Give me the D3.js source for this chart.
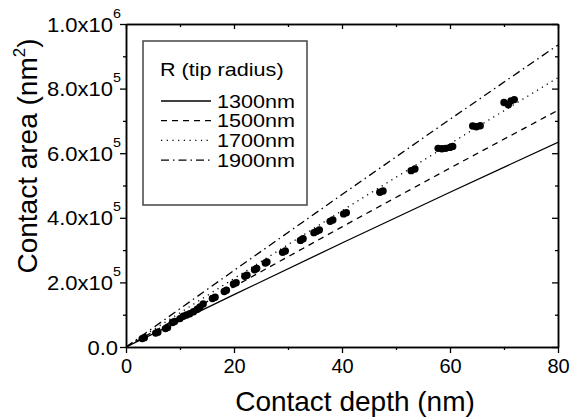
<!DOCTYPE html>
<html>
<head>
<meta charset="utf-8">
<script src="https://cdn.jsdelivr.net/npm/d3@7"></script>
<style>
  body { margin: 0; background: #fff; }
  svg { font-family: "Liberation Sans", Arial, sans-serif; }
</style>
</head>
<body>
<svg id="chart" width="570" height="418"></svg>
<script>
// measured points (contact depth in nm, contact area in nm^2)
const depth = [3.0, 3.4, 5.5, 5.9, 7.3, 7.7, 8.6, 9.0, 10.0, 10.6, 11.2, 11.8, 12.5, 13.2, 13.7, 14.3,
  16.0, 16.5, 18.2, 18.6, 19.9, 20.4, 22.0, 22.4, 23.8, 24.2, 25.8, 26.1, 29.0, 29.5,
  32.3, 32.8, 34.8, 35.3, 35.8, 37.8, 38.3, 40.3, 40.8, 47.0, 47.6, 52.8, 53.5,
  57.8, 58.5, 59.2, 60.0, 60.5, 64.2, 64.9, 65.6, 70.0, 70.8, 71.3, 71.9];
const area = [26000, 29000, 43000, 46000, 57000, 60000, 76000, 79000, 88000, 95000, 99000, 103000, 109000, 117000, 124000, 133000,
  150000, 154000, 172000, 176000, 195000, 199000, 219000, 222000, 239000, 243000, 260000, 263000, 293000, 297000,
  330000, 335000, 354000, 358000, 362000, 389000, 393000, 412000, 416000, 479000, 483000, 546000, 551000,
  615000, 614000, 615000, 618000, 621000, 684000, 682000, 685000, 757000, 750000, 762000, 766000];

// model curves
const lineDepth = [0, 20, 40, 60, 80];
const r1300 = [0, 162000, 322000, 479000, 634000];
const r1500 = [0, 187000, 372000, 554000, 733000];
const r1700 = [0, 212000, 422000, 629000, 834000];
const r1900 = [0, 237000, 472000, 705000, 935000];

const radii = ["1300nm", "1500nm", "1700nm", "1900nm"];
const dashes = [null, "6,5", "1.2,4.5", "8,4,1.5,4"];

const svg = d3.select("#chart"),
  pl = 126, pr = 558, pt = 24, pb = 347;

const x = d3.scaleLinear().domain([0, 80]).range([pl, pr]);
const y = d3.scaleLinear().domain([0, 1e6]).range([pb, pt]);

svg.append("defs").append("clipPath").attr("id", "clip")
  .append("rect").attr("x", pl).attr("y", pt)
  .attr("width", pr - pl).attr("height", pb - pt);

const plot = svg.append("g").attr("clip-path", "url(#clip)");

const line = d3.line()
  .x(d => x(d[0]))
  .y(d => y(d[1]));

[r1300, r1500, r1700, r1900].forEach((vals, i) => {
  plot.append("path")
    .datum(lineDepth.map((d, j) => [d, vals[j]]))
    .attr("fill", "none")
    .attr("stroke", "#000")
    .attr("stroke-width", 1.3)
    .attr("stroke-dasharray", dashes[i])
    .attr("d", line);
});

plot.selectAll("circle")
  .data(depth.map((d, i) => [d, area[i]]))
  .join("circle")
  .attr("cx", d => x(d[0]))
  .attr("cy", d => y(d[1]))
  .attr("r", 3.7)
  .attr("fill", "#000");

// axes: major + minor ticks
const xMajor = d3.range(0, 81, 20), xMinor = d3.range(10, 80, 20);
const yMajor = d3.range(0, 1e6 + 1, 2e5), yMinor = d3.range(1e5, 1e6, 2e5);

function styleAxis(g) {
  g.select(".domain").attr("stroke-width", 1.5);
  g.selectAll(".tick line").attr("stroke-width", 1.3);
}

// bottom
svg.append("g").attr("transform", `translate(0,${pb})`)
  .call(d3.axisBottom(x).tickValues(xMinor).tickSize(3).tickSizeOuter(0).tickFormat(""))
  .call(styleAxis);
svg.append("g").attr("transform", `translate(0,${pb})`)
  .call(d3.axisBottom(x).tickValues(xMajor).tickSize(6).tickSizeOuter(0).tickPadding(6))
  .call(styleAxis)
  .selectAll("text").attr("font-size", 20).attr("font-family", "Liberation Sans, Arial, sans-serif").attr("fill", "#000");

// top
svg.append("g").attr("transform", `translate(0,${pt})`)
  .call(d3.axisTop(x).tickValues(xMinor).tickSize(-3).tickSizeOuter(0).tickFormat(""))
  .call(styleAxis);
svg.append("g").attr("transform", `translate(0,${pt})`)
  .call(d3.axisTop(x).tickValues(xMajor).tickSize(-5).tickSizeOuter(0).tickFormat(""))
  .call(styleAxis);

// right
svg.append("g").attr("transform", `translate(${pr},0)`)
  .call(d3.axisRight(y).tickValues(yMinor).tickSize(-3).tickSizeOuter(0).tickFormat(""))
  .call(styleAxis);
svg.append("g").attr("transform", `translate(${pr},0)`)
  .call(d3.axisRight(y).tickValues(yMajor).tickSize(-6).tickSizeOuter(0).tickFormat(""))
  .call(styleAxis);

// left
svg.append("g").attr("transform", `translate(${pl},0)`)
  .call(d3.axisLeft(y).tickValues(yMinor).tickSize(3).tickSizeOuter(0).tickFormat(""))
  .call(styleAxis);
const yAx = svg.append("g").attr("transform", `translate(${pl},0)`)
  .call(d3.axisLeft(y).tickValues(yMajor).tickSize(6).tickSizeOuter(0))
  .call(styleAxis);

const sx = 1.1;
yAx.selectAll(".tick text").each(function(d) {
  const t = d3.select(this).text(null)
    .attr("font-size", 20).attr("font-family", "Liberation Sans, Arial, sans-serif")
    .attr("fill", "#000").attr("text-anchor", "end").attr("dy", "0.35em")
    .attr("transform", `scale(${sx},1)`);
  if (d === 0) {
    t.attr("x", -8 / sx).text("0.0");
    return;
  }
  const exp = Math.floor(Math.log10(d));
  const mant = d / Math.pow(10, exp);
  t.attr("x", -5 / sx);
  t.append("tspan").text(mant.toFixed(1) + "x10");
  t.append("tspan").attr("font-size", 13).attr("dy", -14).text(exp);
});

// axis titles
svg.append("text")
  .attr("x", 355).attr("y", 411)
  .attr("text-anchor", "middle")
  .attr("font-size", 28)
  .text("Contact depth (nm)");

const yt = svg.append("text")
  .attr("transform", "translate(37,156) rotate(-90)")
  .attr("text-anchor", "middle")
  .attr("font-size", 28);
yt.append("tspan").text("Contact area (nm");
yt.append("tspan").attr("font-size", 17).attr("dy", -12).text("2");
yt.append("tspan").attr("dy", 12).text(")");

// legend
const lg = svg.append("g");
lg.append("rect")
  .attr("x", 143).attr("y", 41).attr("width", 164).attr("height", 164)
  .attr("fill", "#fff").attr("stroke", "#444").attr("stroke-width", 1.5);
lg.append("text")
  .attr("transform", "translate(160,76) scale(1.2,1)")
  .attr("font-size", 18)
  .text("R (tip radius)");
radii.forEach((r, i) => {
  const cy = 101 + i * 19.7;
  lg.append("line")
    .attr("x1", 161).attr("x2", 211).attr("y1", cy).attr("y2", cy)
    .attr("stroke", "#000").attr("stroke-width", 1.3)
    .attr("stroke-dasharray", dashes[i]);
  lg.append("text")
    .attr("transform", `translate(217,${cy + 6.5}) scale(1.2,1)`)
    .attr("font-size", 18)
    .text(r);
});
</script>
</body>
</html>
